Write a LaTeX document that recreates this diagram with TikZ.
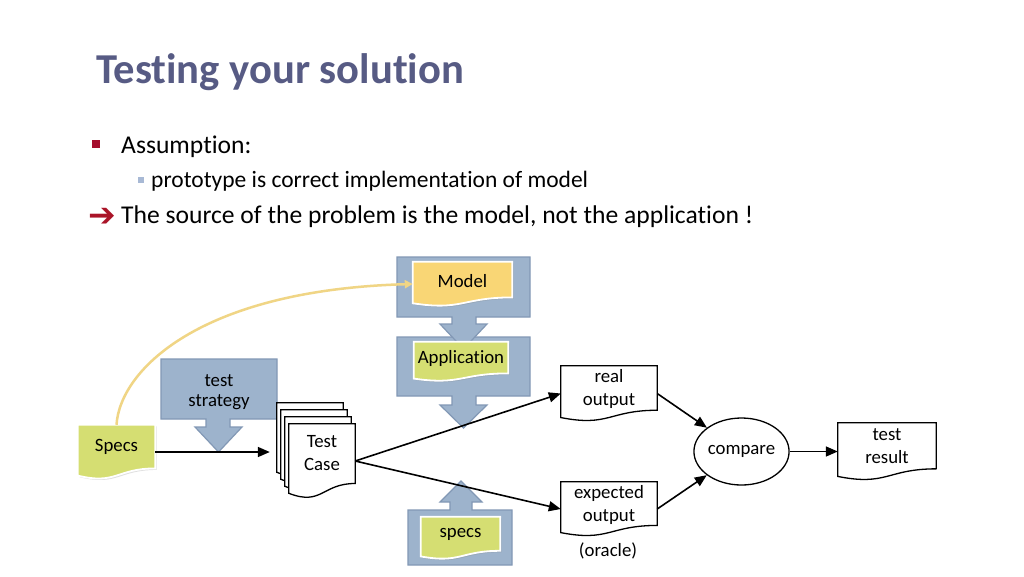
\documentclass[tikz,border=0pt]{standalone}
\usepackage{fontspec}
\setmainfont[Ligatures=NoCommon]{Carlito}
\newfontfamily\symfont{DejaVu Sans}
\usepackage{tikz}
\usetikzlibrary{arrows.meta,positioning,calc,shapes.geometric,backgrounds,shadows}
\definecolor{TitleBlue}{HTML}{575B84}
\definecolor{BulletRed}{HTML}{A50E2D}
\definecolor{SubBullet}{HTML}{A8B9D5}
\definecolor{ArrowRed}{HTML}{AA1428}
\definecolor{CalloutFill}{HTML}{9DB3CC}
\definecolor{CalloutLine}{HTML}{8298B5}
\definecolor{ModelYellow}{HTML}{F9D675}
\definecolor{SpecGreen}{HTML}{D5DE72}
\definecolor{LinkYellow}{HTML}{F0D585}

\newcommand{\titlefont}{\fontsize{42.6}{48}\selectfont\bfseries}
\newcommand{\bodyfont}{\fontsize{25.6}{30}\selectfont}
\newcommand{\subfont}{\fontsize{23.5}{27}\selectfont}
\newcommand{\diagfont}{\fontsize{18.8}{23}\selectfont}

% wavy-bottom document outline round a node
\newcommand{\docoutline}[2][]{%
  \path[#1] let \p1=(#2.north west), \p2=(#2.south east) in
    (\x1,\y1) -- (\x2,\y1) -- (\x2,{\y1-0.802*(\y1-\y2)})
    .. controls ({(\x1+\x2)/2},{\y1-0.802*(\y1-\y2)}) and ({(\x1+\x2)/2},{\y1-1.107*(\y1-\y2)})
    .. (\x1,{\y1-0.934*(\y1-\y2)}) -- cycle;}

\begin{document}
\begin{tikzpicture}[x=1pt, y=-1pt,
  docbox/.style={rectangle, inner sep=0pt, align=center, font=\diagfont},
  callout/.style={fill=CalloutFill, draw=CalloutLine, line width=1.2pt},
  paper/.style={fill=white, draw=black, line width=1.3pt},
  sticker/.style={draw=white, line width=1.8pt,
    drop shadow={shadow xshift=1.5pt, shadow yshift=-1.5pt, opacity=0.25}},
  flow/.style={-{Triangle[length=12pt,width=10pt]}, line width=1.6pt},
  link/.style={-{Triangle[length=8pt,width=8pt]}, draw=LinkYellow, line width=2.5pt}]

  % header
  \node[anchor=base west, font=\titlefont, text=TitleBlue, inner sep=0pt] (title) at (96,83) {Testing your solution};
  \node[anchor=base west, font=\bodyfont, inner sep=0pt] (assume) at (121,153) {Assumption:};
  \node[anchor=base west, font=\subfont, inner sep=0pt] (proto) at (151,187) {prototype is correct implementation of model};
  \node[anchor=base west, font=\symfont\bfseries\fontsize{33}{36}\selectfont, text=ArrowRed, inner sep=0pt] (pointer) at (88,226) {➔};
  \node[anchor=base west, font=\bodyfont, inner sep=0pt] (source) at (121,223) {The source of the problem is the model, not the application !};
  \fill[BulletRed] (92,140) rectangle (100,148);
  \fill[SubBullet] (138,177) rectangle (144,183);

  % documents
  \node[docbox, minimum width=77, minimum height=54, text depth=14pt] (specs) at (116.5,452) {Specs};
  \node[docbox, minimum width=99, minimum height=44, text depth=6pt] (model) at (462.5,284) {Model};
  \node[docbox, minimum width=94, minimum height=39, text depth=9pt] (app) at (461,361.5) {Application};
  \node[docbox, minimum width=79, minimum height=42, text depth=10pt] (oraclespec) at (460.5,538) {specs};
  \node[docbox, minimum width=66, minimum height=74, text depth=16pt] (testcase) at (322,461) {Test\\Case};
  \node[docbox, minimum width=96, minimum height=55, text depth=12pt] (real) at (609,393.5) {real\\output};
  \node[docbox, minimum width=96, minimum height=54, text depth=11pt] (expected) at (609,509) {expected\\output};
  \node[docbox, minimum width=98, minimum height=57, text depth=10pt] (result) at (887,451.5) {test\\result};
  \node[ellipse, draw, line width=1.3pt, inner sep=0pt, minimum width=85, minimum height=67, font=\diagfont] (compare) at (741.5,451.5) {compare};
  \node[align=center, font=\fontsize{18.8}{20}\selectfont] (strategy) at (219,392) {test\\strategy};
  \node[font=\diagfont] (oracle) at (608,551) {(oracle)};

  \begin{scope}[on background layer]
    \fill[white] (0,0) rectangle (1024,576);
    % callouts
    \draw[callout] (161,359) -- (277,359) -- (277,419) -- (230,419) -- (230,427) -- (242,427)
      -- (218.5,452) -- (195,427) -- (206,427) -- (206,419) -- (161,419) -- cycle;
    \draw[callout] (397,337) -- (530,337) -- (530,396) -- (476,396) -- (476,405) -- (487,405)
      -- (463.5,428) -- (440,405) -- (452,405) -- (452,396) -- (397,396) -- cycle;
    \draw[callout] (397,257) -- (530,257) -- (530,317) -- (476,317) -- (476,324) -- (487,324)
      -- (463.5,349) -- (440,324) -- (452,324) -- (452,317) -- (397,317) -- cycle;
    \draw[callout] (408,510) -- (450,510) -- (450,502) -- (440,502) -- (461,481) -- (482,502)
      -- (472,502) -- (472,510) -- (512,510) -- (512,565) -- (408,565) -- cycle;
    % stickers
    \docoutline[sticker, fill=SpecGreen]{specs}
    \docoutline[sticker, fill=ModelYellow]{model}
    \docoutline[sticker, fill=SpecGreen]{app}
    \docoutline[sticker, fill=SpecGreen]{oraclespec}
    % test case stack
    \foreach \k in {3,2,1}{
      \docoutline[paper, transform canvas={xshift=-4*\k pt, yshift=7*\k pt}]{testcase}
    }
    \docoutline[paper]{testcase}
    \docoutline[paper]{real}
    \docoutline[paper]{expected}
    \docoutline[paper]{result}
  \end{scope}

  % connectors
  \draw[link] (specs.north) .. controls (120,370) and (200,290) .. (model.west);
  \draw[flow, shorten >=19pt] (specs.east) -- (specs.east -| testcase.west);
  \draw[flow] (testcase.east) -- (real.west);
  \draw[flow] (testcase.east) -- (expected.west);
  \draw[flow] (real.east) -- (compare);
  \draw[flow] (expected.east) -- (compare);
  \draw[flow] (compare) -- (result);

  \useasboundingbox (0,0) rectangle (1024,576);
\end{tikzpicture}
\end{document}
